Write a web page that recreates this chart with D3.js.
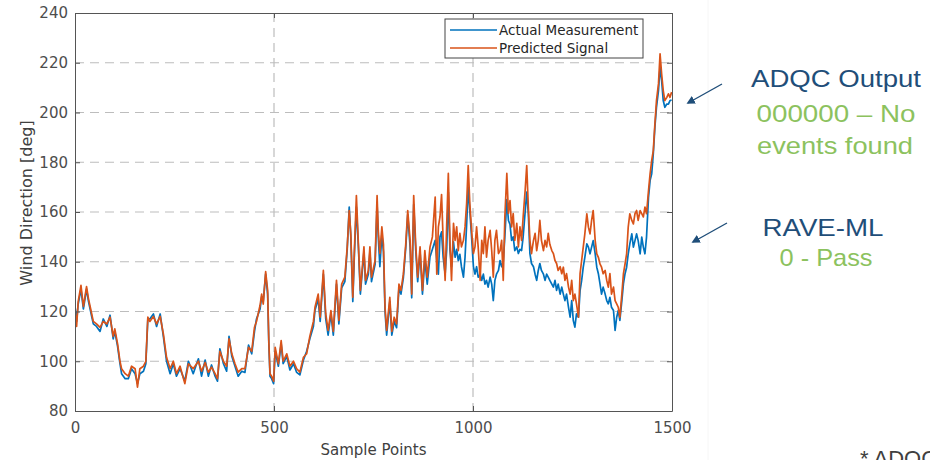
<!DOCTYPE html>
<html>
<head>
<meta charset="utf-8">
<script src="https://cdn.jsdelivr.net/npm/d3@7"></script>
<style>
  body { margin: 0; background: #fff; }
  svg { display: block; background: #fff; }
  .axis text { font-family: "DejaVu Sans", sans-serif; font-size: 15px; fill: #4d4d4d; }
  .axis line, .axis path { stroke: #555; }
  .axis-title { font-family: "DejaVu Sans", sans-serif; fill: #404040; }
  .legend text { font-family: "DejaVu Sans", sans-serif; font-size: 13.5px; fill: #262626; }
  .note { font-family: "Liberation Sans", Arial, sans-serif; }
</style>
</head>
<body>
<svg id="chart"></svg>
<script>
// sample index shared by both series
const samplePoints = [
  0, 4, 8, 15, 21, 25, 29, 34, 38, 42, 46, 54, 63, 71, 80, 88,
  96, 100, 107, 113, 117, 126, 134, 142, 151, 157, 163, 172, 178, 183, 188, 197,
  205, 214, 222, 230, 239, 247, 255, 264, 276, 285, 297, 310, 318, 327, 335, 343,
  352, 358, 364, 373, 381, 387, 394, 402, 410, 419, 427, 436, 444, 451, 456, 465,
  469, 473, 479, 484, 487, 490, 494, 499, 503, 511, 518, 523, 532, 540, 549, 557,
  565, 574, 582, 590, 599, 603, 611, 616, 624, 630, 636, 643, 649, 657, 663, 670,
  678, 684, 689, 693, 698, 702, 707, 712, 717, 722, 726, 730, 737, 741, 745, 754,
  759, 762, 766, 771, 775, 779, 783, 791, 796, 802, 808, 814, 819, 825, 831, 836,
  842, 846, 851, 856, 861, 867, 873, 879, 885, 892, 898, 905, 909, 913, 917, 921,
  925, 930, 934, 938, 942, 946, 951, 955, 959, 963, 967, 971, 976, 980, 984, 988,
  992, 997, 1001, 1005, 1009, 1013, 1018, 1022, 1026, 1030, 1034, 1038, 1043, 1047, 1051, 1055,
  1059, 1064, 1068, 1072, 1076, 1080, 1085, 1089, 1093, 1097, 1101, 1105, 1110, 1114, 1118, 1122,
  1126, 1131, 1135, 1139, 1143, 1147, 1152, 1156, 1160, 1164, 1168, 1172, 1177, 1181, 1185, 1189,
  1193, 1198, 1202, 1206, 1210, 1214, 1219, 1223, 1227, 1231, 1235, 1240, 1244, 1248, 1252, 1256,
  1260, 1265, 1269, 1273, 1277, 1281, 1286, 1290, 1294, 1298, 1302, 1307, 1311, 1315, 1319, 1323,
  1327, 1332, 1336, 1340, 1344, 1348, 1353, 1357, 1361, 1365, 1369, 1374, 1378, 1382, 1386, 1390,
  1394, 1399, 1403, 1407, 1411, 1415, 1420, 1424, 1428, 1432, 1436, 1441, 1445, 1449, 1453, 1457,
  1461, 1466, 1470, 1474, 1478, 1482, 1487, 1491, 1495, 1499
];

const actualValues = [
  122, 116, 123, 129, 121, 125, 129, 124, 121, 118, 115, 114, 112, 117, 114, 118.5,
  109, 112, 106, 99, 95, 93, 93, 97, 95, 91, 95, 96, 99, 117, 117, 119,
  114, 119, 110, 100, 95, 99, 94, 97, 92, 100, 95, 101, 94, 100.5, 94, 98.5,
  94, 92, 105, 99, 96, 110, 102, 98, 94, 96, 95.5, 106.5, 103, 112, 117, 121,
  126, 124, 135, 127, 107, 94, 93, 91, 104, 98, 107, 99, 102, 96.5, 99, 95.5,
  94.5, 100.5, 104, 109, 114, 120.5, 125, 116, 135, 117, 110.5, 119, 110.5, 131, 115, 129.5,
  132, 145, 162, 150, 124, 143, 162, 146, 127, 136.5, 144, 131, 135, 144, 132, 139,
  163, 150, 138, 151, 144, 120, 110.5, 124, 110.5, 116, 113.5, 129.5, 127, 133.5, 145.5, 159,
  146, 125.5, 163, 145, 132, 144, 127, 141, 131, 142, 145, 148.6, 140, 135, 150, 152,
  141.8, 135, 145, 168, 145, 138, 148, 141.8, 145, 140.5, 143, 138, 133.8, 141.8, 155, 170,
  160.6, 148.6, 138, 135, 138, 133.8, 135, 132.5, 135, 131, 132.5, 129.8, 133.8, 131, 124.4, 132.5,
  135, 136.5, 140.5, 138, 140, 150, 165, 156.6, 155, 148.6, 150, 144.5, 146, 143.3, 145, 144.5,
  150, 160, 168, 159.4, 143.3, 139.3, 138, 135, 132.5, 136.5, 139.3, 136.5, 135, 132.5, 135, 133.8,
  132.5, 131, 129.8, 132.5, 128.5, 131, 127, 129.8, 127, 124.4, 127, 121.7, 117.7, 124.4, 116.4, 113.7,
  119.1, 117.7, 128.4, 132.5, 137.8, 141.8, 147.2, 145.9, 143.2, 145.9, 148.5, 143.2, 137.8, 135.2, 131.2, 127,
  129.8, 127, 124.4, 123.1, 125.7, 121.7, 120.4, 112.4, 117.7, 120.4, 116.4, 124.4, 131.2, 135.2, 137.8, 143.2,
  147.2, 151.2, 145.9, 148.5, 151.2, 148.5, 143.2, 149.9, 145.9, 143.2, 149.9, 166, 172.7, 175.4, 183.4, 194.1,
  202.1, 208.8, 218.2, 212.8, 204.8, 202.1, 203.4, 203.4, 204.8, 205
];

const predictedValues = [
  120, 114, 124, 130.5, 122, 126, 130, 125, 122, 119, 116, 115, 113.6, 116, 115, 117.7,
  110, 113, 107, 100, 97, 95, 94, 98, 97, 89.6, 97, 98, 100, 117.7, 116, 118,
  115, 118, 111, 101.6, 97, 100, 95, 98, 91, 99, 97, 100, 96, 99.5, 95.6, 97.6,
  95, 93, 104, 100, 98, 109, 103, 99, 95.6, 97, 97, 105.6, 104, 113.7, 116, 122.5,
  127, 123, 136, 128.5, 108, 95, 94, 92, 105.6, 99, 108.3, 100, 103, 98, 100, 97,
  95.6, 101.6, 103, 110, 116, 121.7, 127, 117.7, 136.5, 119, 112.4, 120.4, 112, 132.5, 116.4, 131,
  133.8, 146, 160.6, 151, 125.7, 144.5, 166.6, 147.3, 128.5, 138, 146, 132.5, 136.5, 146, 133.8, 140.5,
  166.6, 152.6, 143.3, 154, 147, 121.7, 112.4, 125.7, 112, 117.7, 115, 131, 128.5, 135, 147, 160.6,
  148.6, 127, 166.6, 147, 133.8, 146, 128.5, 144.5, 133.8, 146, 150, 166, 135, 154, 158, 167,
  148.6, 132.5, 155.4, 175.5, 148.6, 132.5, 155.4, 148.6, 154, 144.5, 151.4, 146, 148.6, 154, 163.4, 178.7,
  163.4, 151.4, 143.3, 146, 154, 146, 132.5, 148.6, 143.3, 154, 141.8, 148.6, 152.6, 144.5, 133.8, 148.6,
  152.6, 143.3, 144.5, 148.6, 132.5, 158, 175.5, 159.4, 164.6, 154, 159.4, 148.6, 155.4, 146, 154, 148.6,
  158, 168.6, 178.7, 162, 148.6, 143.3, 148.6, 151.4, 144.5, 148.6, 156.6, 148.6, 144.5, 148.6, 146, 151.4,
  147, 144.5, 143.3, 140.5, 139.3, 136.5, 138, 135.2, 137.8, 132.5, 135.2, 129.8, 127, 132.5, 124.4, 127,
  123.1, 117.7, 135.2, 140.5, 145.9, 151.2, 159.3, 153.9, 151.2, 156.6, 160.6, 148.5, 143.2, 141.8, 139.1, 137.8,
  135.2, 136.5, 132.5, 129.8, 135.2, 127, 129.8, 124.4, 123.1, 121.7, 117.7, 127, 135.2, 139.1, 143.2, 153.9,
  159.3, 156.6, 155.2, 159.3, 160.6, 156.6, 160.6, 159.3, 158, 162, 159.3, 168.6, 175.4, 180.7, 184.7, 195.4,
  204.8, 211.5, 223.6, 215.5, 208.8, 204.8, 206.1, 207.5, 206.1, 208.2
];

const xTicks = [0, 500, 1000, 1500];
const yTicks = [80, 100, 120, 140, 160, 180, 200, 220, 240];
const seriesNames = ['Actual Measurement', 'Predicted Signal'];
const seriesColors = ['#0072BD', '#D95319'];

class WindChart {
    constructor(_config) {
        this.config = {
            parentElement: _config.parentElement,
            containerWidth: _config.containerWidth || 930,
            containerHeight: _config.containerHeight || 460,
            margin: _config.margin || { top: 13, right: 258, bottom: 49, left: 75 }
        }
        this.initVis();
    }

    initVis() {
        let vis = this;

        vis.width = vis.config.containerWidth - vis.config.margin.left - vis.config.margin.right;
        vis.height = vis.config.containerHeight - vis.config.margin.top - vis.config.margin.bottom;

        vis.xScale = d3.scaleLinear().domain([0, 1500]).range([0, vis.width]);
        vis.yScale = d3.scaleLinear().domain([80, 240]).range([vis.height, 0]);

        // MATLAB style: ticks point inwards on all four sides
        vis.xAxis = d3.axisBottom(vis.xScale).tickValues(xTicks)
            .tickFormat(d3.format('d'))
            .tickSizeInner(-5).tickSizeOuter(0).tickPadding(11);
        vis.yAxis = d3.axisLeft(vis.yScale).tickValues(yTicks)
            .tickFormat(d3.format('d'))
            .tickSizeInner(-5).tickSizeOuter(0).tickPadding(7);
        vis.xAxisTop = d3.axisTop(vis.xScale).tickValues(xTicks)
            .tickSizeInner(-5).tickSizeOuter(0).tickFormat('');
        vis.yAxisRight = d3.axisRight(vis.yScale).tickValues(yTicks)
            .tickSizeInner(-5).tickSizeOuter(0).tickFormat('');

        vis.svg = d3.select(vis.config.parentElement)
            .attr('width', vis.config.containerWidth)
            .attr('height', vis.config.containerHeight);

        // faint edge of the pasted figure
        vis.svg.append('line')
            .attr('x1', 708).attr('x2', 708)
            .attr('y1', 0).attr('y2', vis.config.containerHeight)
            .attr('stroke', '#f6f6f6');

        vis.chart = vis.svg.append('g')
            .attr('transform', `translate(${vis.config.margin.left},${vis.config.margin.top})`);

        vis.chart.append('clipPath').attr('id', 'plot-clip')
            .append('rect').attr('width', vis.width).attr('height', vis.height);

        // dashed grid
        vis.gridG = vis.chart.append('g').attr('class', 'grid');
        vis.gridG.selectAll('.hgrid')
            .data(yTicks.slice(1, -1))
            .join('line')
            .attr('class', 'hgrid')
            .attr('x1', 0).attr('x2', vis.width)
            .attr('y1', d => vis.yScale(d)).attr('y2', d => vis.yScale(d));
        vis.gridG.selectAll('.vgrid')
            .data(xTicks.slice(1, -1))
            .join('line')
            .attr('class', 'vgrid')
            .attr('y1', 0).attr('y2', vis.height)
            .attr('x1', d => vis.xScale(d)).attr('x2', d => vis.xScale(d));
        vis.gridG.selectAll('line')
            .attr('stroke', '#bdbdbd')
            .attr('stroke-width', 1.2)
            .attr('stroke-dasharray', '9,6');

        vis.linesG = vis.chart.append('g').attr('clip-path', 'url(#plot-clip)');

        vis.xAxisG = vis.chart.append('g').attr('class', 'axis x-axis')
            .attr('transform', `translate(0,${vis.height})`);
        vis.yAxisG = vis.chart.append('g').attr('class', 'axis y-axis');
        vis.xAxisTopG = vis.chart.append('g').attr('class', 'axis');
        vis.yAxisRightG = vis.chart.append('g').attr('class', 'axis')
            .attr('transform', `translate(${vis.width},0)`);

        vis.svg.append('text')
            .attr('class', 'axis-title')
            .attr('x', vis.config.margin.left + vis.width / 2)
            .attr('y', 455)
            .attr('text-anchor', 'middle')
            .attr('font-size', '15px')
            .text('Sample Points');

        vis.svg.append('text')
            .attr('class', 'axis-title')
            .attr('transform', 'translate(32,203) rotate(-90)')
            .attr('text-anchor', 'middle')
            .attr('font-size', '16px')
            .text('Wind Direction [deg]');

        vis.renderVis();
        vis.renderLegend();
        vis.renderNotes();
    }

    renderVis() {
        let vis = this;

        const line = d3.line()
            .x((d, i) => vis.xScale(samplePoints[i]))
            .y(d => vis.yScale(d));

        vis.linesG.selectAll('.series')
            .data([actualValues, predictedValues])
            .join('path')
            .attr('class', 'series')
            .attr('fill', 'none')
            .attr('stroke', (d, i) => seriesColors[i])
            .attr('stroke-width', 1.7)
            .attr('stroke-linejoin', 'round')
            .attr('d', line);

        vis.xAxisG.call(vis.xAxis);
        vis.yAxisG.call(vis.yAxis);
        vis.xAxisTopG.call(vis.xAxisTop);
        vis.yAxisRightG.call(vis.yAxisRight);
    }

    renderLegend() {
        let vis = this;

        const legend = vis.chart.append('g')
            .attr('class', 'legend')
            .attr('transform', 'translate(370,6)');

        legend.append('rect')
            .attr('width', 198).attr('height', 39)
            .attr('fill', '#fff')
            .attr('stroke', '#444');

        const rows = legend.selectAll('.row')
            .data(seriesNames)
            .join('g')
            .attr('class', 'row')
            .attr('transform', (d, i) => `translate(0,${11 + i * 18})`);

        rows.append('line')
            .attr('x1', 5).attr('x2', 52)
            .attr('stroke', (d, i) => seriesColors[i])
            .attr('stroke-width', 1.4);

        rows.append('text')
            .attr('x', 54)
            .attr('dy', '0.36em')
            .text(d => d);
    }

    renderNotes() {
        let vis = this;
        const blue = '#1f4e79';
        const green = '#8cc25e';

        const notes = [
            { text: 'ADQC Output', x: 836, y: 87, color: blue, len: 170 },
            { text: '000000 \u2013 No', x: 836, y: 122, color: green, len: 159 },
            { text: 'events found', x: 835, y: 154, color: green, len: 156 },
            { text: 'RAVE-ML', x: 823, y: 236, color: blue, len: 121 },
            { text: '0 - Pass', x: 826, y: 266, color: green, len: 93 }
        ];

        vis.svg.selectAll('.note')
            .data(notes)
            .join('text')
            .attr('class', 'note')
            .attr('x', d => d.x)
            .attr('y', d => d.y)
            .attr('text-anchor', 'middle')
            .attr('font-size', '24px')
            .attr('textLength', d => d.len)
            .attr('lengthAdjust', 'spacingAndGlyphs')
            .attr('fill', d => d.color)
            .text(d => d.text);

        vis.svg.append('defs').append('marker')
            .attr('id', 'arrow-head')
            .attr('viewBox', '0 0 10 10')
            .attr('refX', 8).attr('refY', 5)
            .attr('markerWidth', 6).attr('markerHeight', 6)
            .attr('orient', 'auto')
            .append('path')
            .attr('d', 'M0,0 L10,5 L0,10 z')
            .attr('fill', blue);

        const arrows = [
            { x1: 722, y1: 84, x2: 688, y2: 103 },
            { x1: 727, y1: 223, x2: 693, y2: 242 }
        ];
        vis.svg.selectAll('.arrow')
            .data(arrows)
            .join('line')
            .attr('class', 'arrow')
            .attr('x1', d => d.x1).attr('y1', d => d.y1)
            .attr('x2', d => d.x2).attr('y2', d => d.y2)
            .attr('stroke', blue)
            .attr('stroke-width', 1.4)
            .attr('marker-end', 'url(#arrow-head)');

        // footnote that runs off the slide edge, as in the source
        vis.svg.append('text')
            .attr('class', 'note')
            .attr('x', 860)
            .attr('y', 466)
            .attr('font-size', '22px')
            .attr('fill', '#404040')
            .text('* ADQC');
    }
}

const windChart = new WindChart({ parentElement: '#chart' });
</script>
</body>
</html>
